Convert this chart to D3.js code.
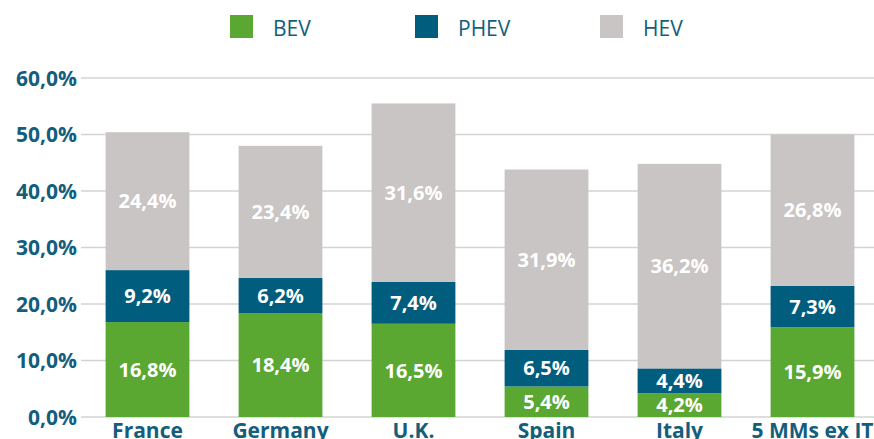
<!DOCTYPE html>
<html>
<head>
<meta charset="utf-8">
<script src="https://cdn.jsdelivr.net/npm/d3@7"></script>
<style>
  body { margin: 0; background: #fff; }
  text { font-family: "Open Sans", sans-serif; }
</style>
</head>
<body>
<script>
var countries = ["France", "Germany", "U.K.", "Spain", "Italy", "5 MMs ex IT"];
var bev  = [16.8, 18.4, 16.5, 5.4, 4.2, 15.9];
var phev = [9.2, 6.2, 7.4, 6.5, 4.4, 7.3];
var hev  = [24.4, 23.4, 31.6, 31.9, 36.2, 26.8];
var series = ["BEV", "PHEV", "HEV"];
var yTicks = [0, 10, 20, 30, 40, 50, 60];

var colors = {BEV: "#5aa832", PHEV: "#005d7e", HEV: "#c9c5c4"};
var textBlue = "#135e7d";

var width = 874, height = 439;
var svg = d3.select("body").append("svg")
    .attr("width", width)
    .attr("height", height);

var rows = countries.map((c, i) => ({country: c, BEV: bev[i], PHEV: phev[i], HEV: hev[i]}));
var stacked = d3.stack().keys(series)(rows);

var x = d3.scaleBand().domain(countries).range([81, 879])
    .paddingInner(0.37).paddingOuter(0.185);
var y = d3.scaleLinear().domain([0, 60]).range([417, 78]);

// gridlines
svg.append("g").selectAll("line")
    .data(yTicks)
    .enter().append("line")
    .attr("x1", 81).attr("x2", width)
    .attr("y1", d => y(d)).attr("y2", d => y(d))
    .attr("stroke", "#d3d3d3")
    .attr("stroke-width", 1.5);

// y axis labels
svg.append("g").selectAll("text")
    .data(yTicks)
    .enter().append("text")
    .attr("x", 77)
    .attr("y", d => y(d))
    .attr("dy", "0.36em")
    .attr("text-anchor", "end")
    .attr("font-size", 21)
    .attr("font-weight", 700)
    .attr("fill", textBlue)
    .text(d => d.toFixed(1).replace(".", ",") + "%");

// bars
var layers = svg.append("g").selectAll("g")
    .data(stacked)
    .enter().append("g")
    .attr("fill", d => colors[d.key]);

layers.selectAll("rect")
    .data(d => d)
    .enter().append("rect")
    .attr("x", d => x(d.data.country))
    .attr("width", x.bandwidth())
    .attr("y", d => y(d[1]))
    .attr("height", d => y(d[0]) - y(d[1]));

// value labels
layers.selectAll("text")
    .data(d => d.map(p => ({p: p, key: d.key})))
    .enter().append("text")
    .attr("x", d => x(d.p.data.country) + x.bandwidth() / 2)
    .attr("y", d => y((d.p[0] + d.p[1]) / 2))
    .attr("dy", "0.36em")
    .attr("text-anchor", "middle")
    .attr("font-size", 20)
    .attr("font-weight", 700)
    .attr("fill", "#fff")
    .text(d => d.p.data[d.key].toFixed(1).replace(".", ",") + "%");

// category labels
svg.append("g").selectAll("text")
    .data(countries)
    .enter().append("text")
    .attr("x", d => x(d) + x.bandwidth() / 2)
    .attr("y", 438)
    .attr("text-anchor", "middle")
    .attr("font-size", 21)
    .attr("font-weight", 700)
    .attr("fill", textBlue)
    .text(d => d);

// legend
var legendX = [230, 415, 600];
var legend = svg.append("g").selectAll("g")
    .data(series)
    .enter().append("g")
    .attr("transform", (d, i) => "translate(" + legendX[i] + ",15)");
legend.append("rect")
    .attr("width", 23).attr("height", 23)
    .attr("fill", d => colors[d]);
legend.append("text")
    .attr("x", 43).attr("y", 21)
    .attr("font-size", 21)
    .attr("fill", textBlue)
    .text(d => d);
</script>
</body>
</html>
